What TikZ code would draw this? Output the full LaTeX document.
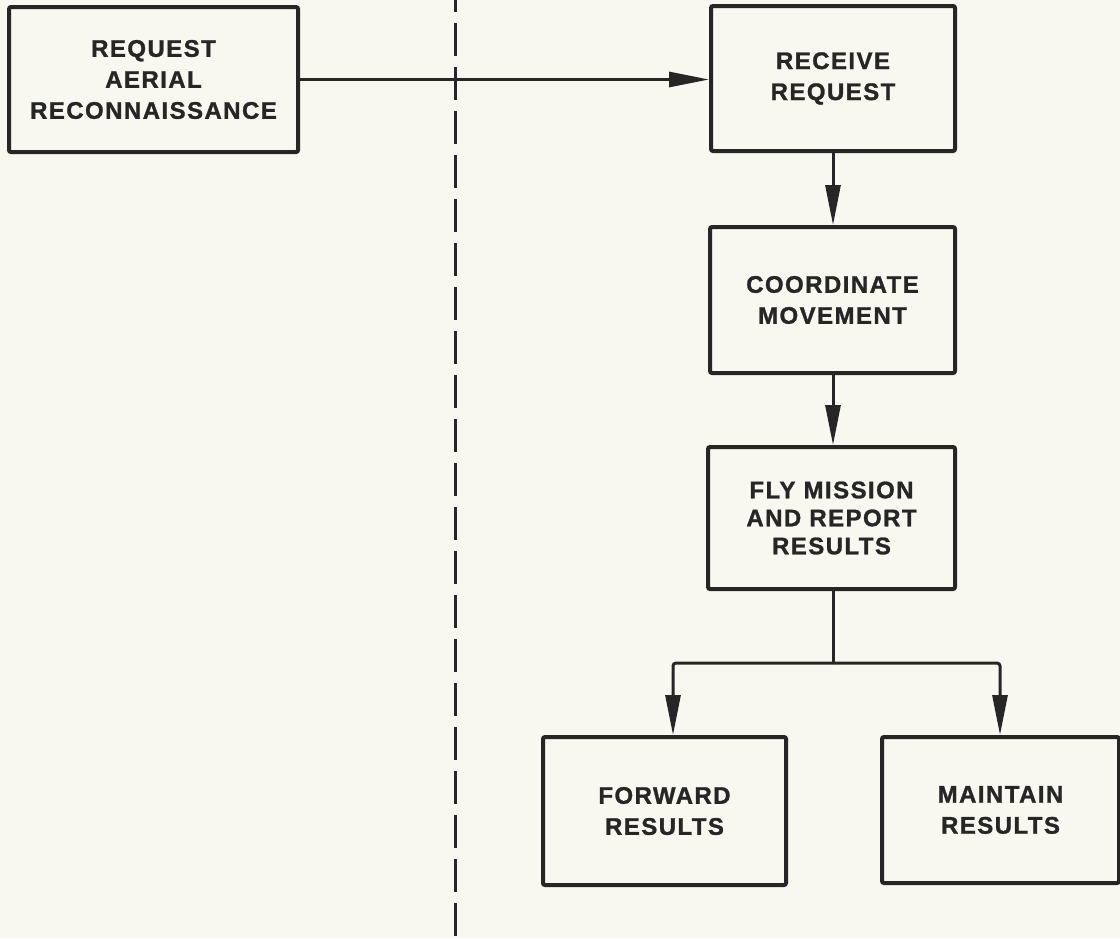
\documentclass[tikz,border=0pt]{standalone}
\usepackage{fontspec}
\setmainfont{Liberation Sans}[LetterSpace=6, BoldFeatures={FakeBold=1.2}]
\usetikzlibrary{arrows.meta}
\definecolor{paper}{HTML}{F8F8F0}
\definecolor{ink}{HTML}{262626}
\begin{document}
\begin{tikzpicture}[x=1pt,y=-1pt,
  blk/.style={draw=ink, line width=4pt, rounded corners=2pt, align=center,
    text=ink, font=\bfseries\fontsize{24}{31}\selectfont},
  link/.style={draw=ink, line width=3pt},
  arr/.style={link, -{Triangle[length=40pt,width=15pt]}},
  dashline/.style={draw=ink, line width=3pt, dash pattern=on 33pt off 11pt, dash phase=21pt}]
  \fill[paper] (0,0) rectangle (1120,938);
  \useasboundingbox (0,0) rectangle (1120,938);

  % boundary between requesting unit and executing unit
  \coordinate (dtop) at (455,0);
  \coordinate (dbot) at (455,938);
  \draw[dashline] (dtop) -- (dbot);

  % process boxes
  \node[blk, minimum width=289pt, minimum height=145pt] (req) at (153.5,79.5)
    {REQUEST\\AERIAL\\RECONNAISSANCE};
  \node[blk, minimum width=244pt, minimum height=145pt] (recv) at (833,78.5)
    {RECEIVE\\REQUEST};
  \node[blk, minimum width=245pt, minimum height=146pt] (coord) at (832.5,300)
    {COORDINATE\\MOVEMENT};
  \node[blk, minimum width=247pt, minimum height=142pt,
        font=\bfseries\fontsize{24}{28}\selectfont] (fly) at (831.5,518)
    {FLY MISSION\\AND REPORT\\RESULTS};
  \node[blk, minimum width=243pt, minimum height=148pt] (fwd) at (664.5,811)
    {FORWARD\\RESULTS};
  \node[blk, minimum width=237pt, minimum height=146pt] (mnt) at (1000.5,810)
    {MAINTAIN\\RESULTS};

  % flow
  \coordinate (spine) at (833,0);
  \coordinate (fork) at (833,663);
  \coordinate (fl) at (673,663);
  \coordinate (fr) at (1000,663);
  \draw[arr] (req.east) -- (req.east -| recv.west);
  \draw[arr] (recv.south -| spine) -- (coord.north -| spine);
  \draw[arr] (coord.south -| spine) -- (fly.north -| spine);
  \draw[link] (fly.south -| spine) -- (fork);
  \draw[arr, rounded corners=3pt] (fork) -- (fl) -- (fwd.north -| fl);
  \draw[arr, rounded corners=3pt] (fork) -- (fr) -- (mnt.north -| fr);
\end{tikzpicture}
\end{document}
